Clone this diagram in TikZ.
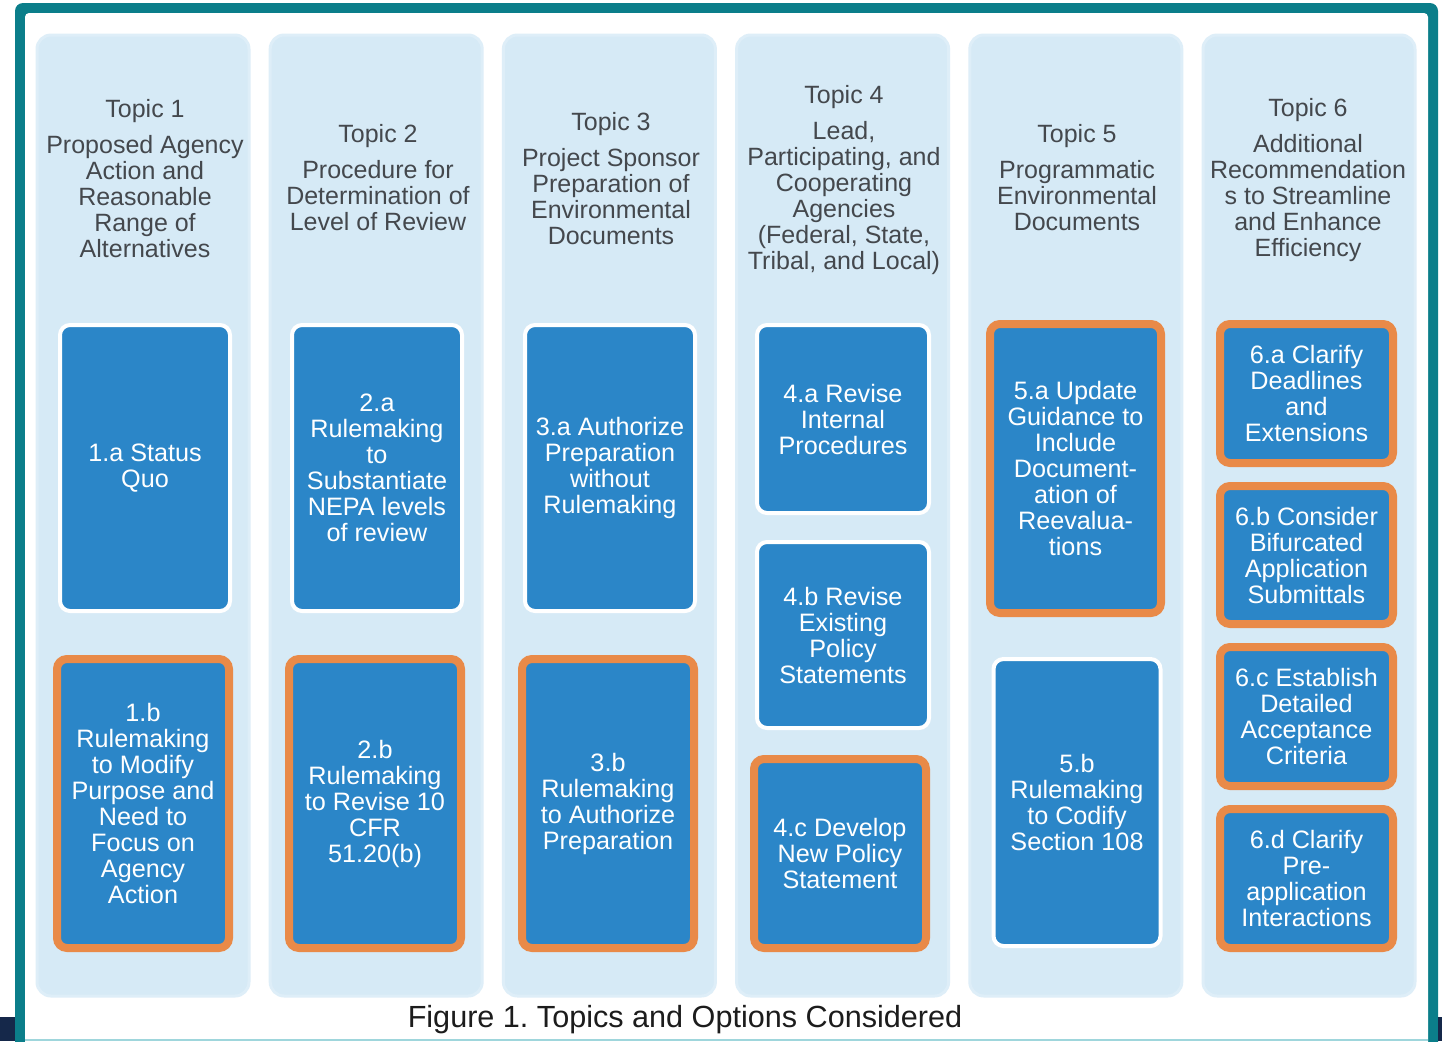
\documentclass[tikz,border=0pt]{standalone}
\usepackage{fontspec}
\setmainfont{Liberation Sans}
\frenchspacing
\definecolor{frameteal}{HTML}{0B7E8A}
\definecolor{navy}{HTML}{15284A}
\definecolor{rulecyan}{HTML}{9FD6DC}
\definecolor{panelblue}{HTML}{D6EAF6}
\definecolor{optblue}{HTML}{2B86C8}
\definecolor{optorange}{HTML}{E98A48}
\definecolor{headgray}{HTML}{44484D}
\definecolor{captionink}{HTML}{1C1C1C}
\begin{document}
\begin{tikzpicture}[x=0.5pt,y=-0.5pt,
  panel/.style={fill=panelblue, draw=panelblue!80!white, line width=1.5pt,
    rounded corners=7pt, inner sep=0pt, minimum width=106pt, minimum height=480.5pt},
  head/.style={text=headgray, align=center, inner sep=0pt,
    font=\fontsize{12.5}{13}\selectfont},
  opt/.style={fill=optblue, text=white, align=center, inner sep=0pt,
    rounded corners=5pt, font=\fontsize{12.6}{13}\selectfont},
  optO/.style={opt, draw=optorange, line width=4pt},
  optW/.style={opt, draw=white, line width=2pt},
  sz/.style 2 args={minimum width=#1*0.5pt, minimum height=#2*0.5pt},
  caption/.style={text=captionink, inner sep=0pt, font=\fontsize{15.3}{16}\selectfont}]
\path[use as bounding box] (0,0) rectangle (1442,1041);
\begin{scope}
\clip (0,0) rectangle (1442,1041);
% outer frame
\fill[frameteal, rounded corners=4pt] (15,3) rectangle (1438,1090);
\fill[white, rounded corners=2pt] (25,13) rectangle (1428,1090);
\fill[navy] (0,1017) rectangle (15,1041);
\fill[navy] (1438,1017) rectangle (1442,1041);
\draw[rulecyan, line width=1pt] (25,1040) -- (1428,1040);

% topic columns
\foreach \i in {1,...,6}{
  \node[panel] (col\i) at ({143+(\i-1)*233.2},515.5) {};
}

% column headings
\node[head] (h1) at (145,179) {Topic 1\\[5pt]Proposed Agency\\Action and\\Reasonable\\Range of\\Alternatives};
\node[head] (h2) at (378,178) {Topic 2\\[5pt]Procedure for\\Determination of\\Level of Review};
\node[head] (h3) at (611,179) {Topic 3\\[5pt]Project Sponsor\\Preparation of\\Environmental\\Documents};
\node[head] (h4) at (844,180) {Topic 4\\[5pt]Lead,\\Participating, and\\Cooperating\\Agencies\\(Federal, State,\\Tribal, and Local)};
\node[head] (h5) at (1077,178) {Topic 5\\[5pt]Programmatic\\Environmental\\Documents};
\node[head] (h6) at (1308,180) {Topic 6\\[5pt]Additional\\Recommendation\\s to Streamline\\and Enhance\\Efficiency};

% options
\node[optW, sz={170}{286}] (o1a) at (145,468) {1.a Status\\Quo};
\node[optO, sz={172}{289}] (o1b) at (143,803.5) {1.b\\Rulemaking\\to Modify\\Purpose and\\Need to\\Focus on\\Agency\\Action};

\node[optW, sz={170}{286}] (o2a) at (377,468) {2.a\\Rulemaking\\to\\Substantiate\\NEPA levels\\of review};
\node[optO, sz={172}{289}] (o2b) at (375,803.5) {2.b\\Rulemaking\\to Revise 10\\CFR\\51.20(b)};

\node[optW, sz={170}{286}] (o3a) at (610,468) {3.a Authorize\\Preparation\\without\\Rulemaking};
\node[optO, sz={172}{289}] (o3b) at (608,803.5) {3.b\\Rulemaking\\to Authorize\\Preparation};

\node[optW, sz={172}{188}] (o4a) at (843,419) {4.a Revise\\Internal\\Procedures};
\node[optW, sz={172}{186}] (o4b) at (843,635) {4.b Revise\\Existing\\Policy\\Statements};
\node[optO, sz={172}{189}] (o4c) at (840,853.5) {4.c Develop\\New Policy\\Statement};

\node[optO, sz={171}{289}] (o5a) at (1075.5,468.5) {5.a Update\\Guidance to\\Include\\Document-\\ation of\\Reevalua-\\tions};
\node[optW, sz={167}{287}] (o5b) at (1077,802.5) {5.b\\Rulemaking\\to Codify\\Section 108};

\node[optO, sz={173}{139}] (o6a) at (1306.5,393.5) {6.a Clarify\\Deadlines\\and\\Extensions};
\node[optO, sz={173}{138}] (o6b) at (1306.5,555) {6.b Consider\\Bifurcated\\Application\\Submittals};
\node[optO, sz={173}{139}] (o6c) at (1306.5,716.5) {6.c Establish\\Detailed\\Acceptance\\Criteria};
\node[optO, sz={173}{139}] (o6d) at (1306.5,878.5) {6.d Clarify\\Pre-\\application\\Interactions};

% caption
\node[caption] (cap) at (685,1020) {Figure 1. Topics and Options Considered};
\end{scope}
\end{tikzpicture}
\end{document}
